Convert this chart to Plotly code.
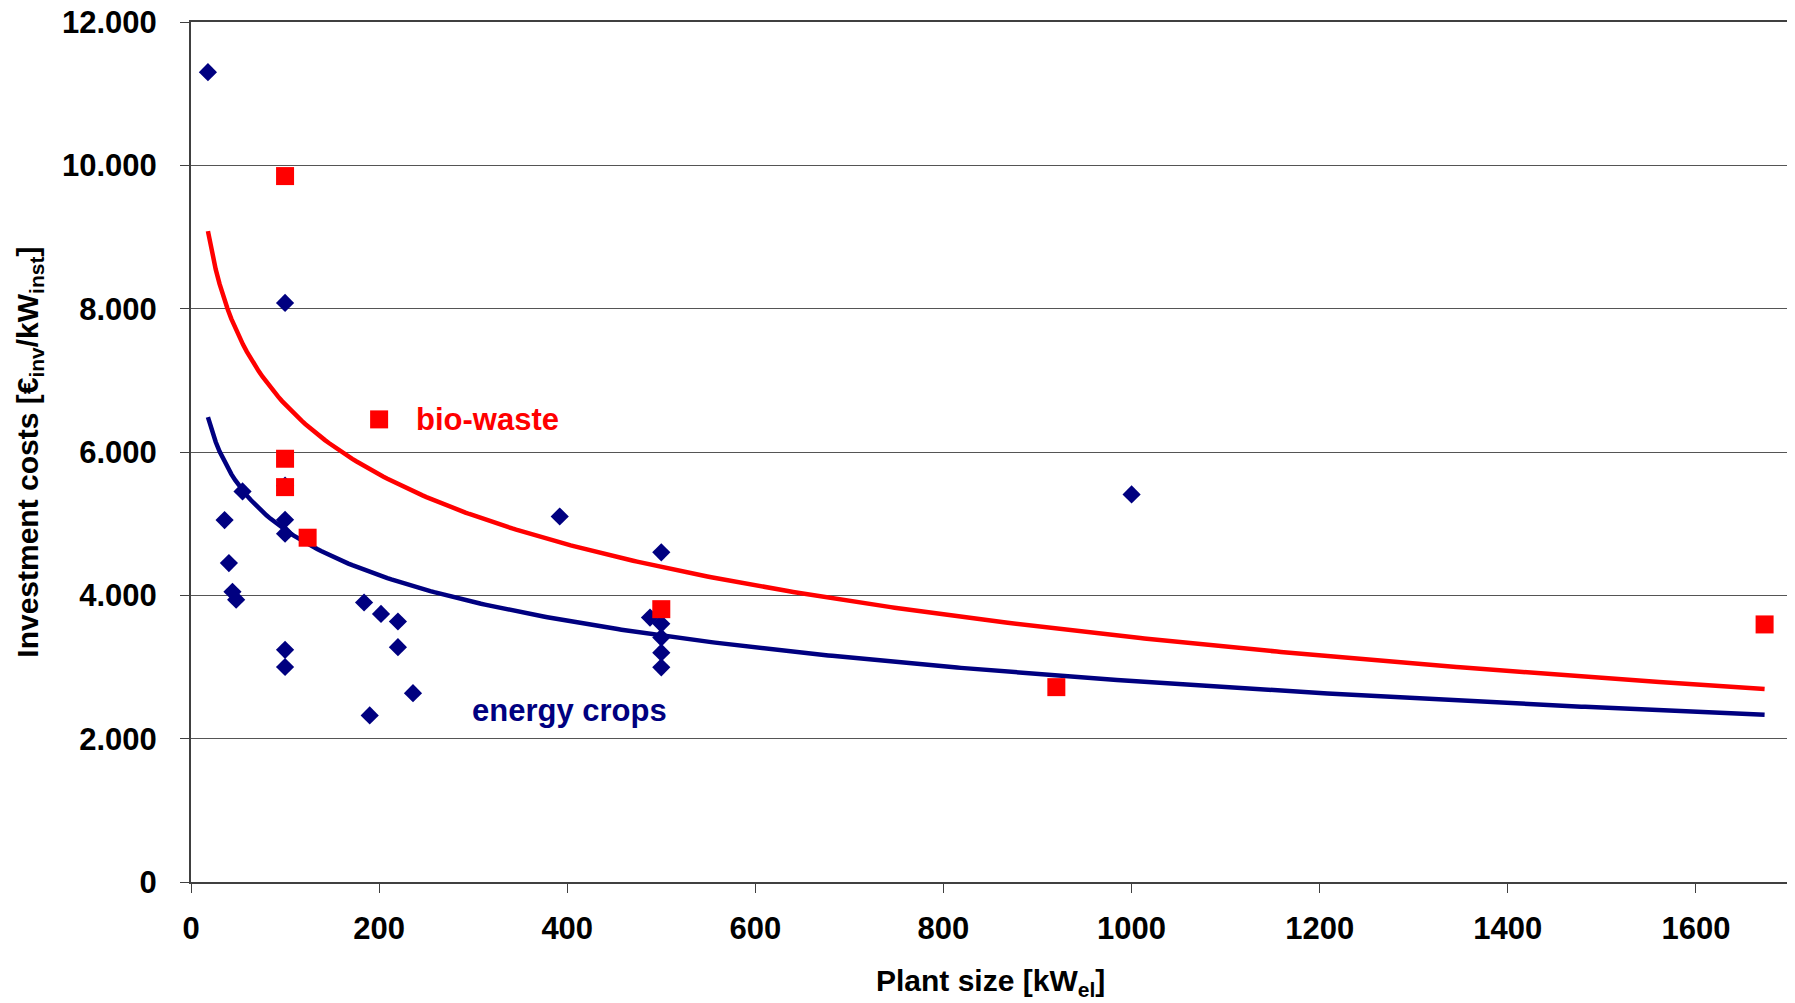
import numpy as np
import plotly.graph_objects as go

# ---- data ----
energy_x = [18, 100, 35.7, 54.8, 40.3, 44.1, 48, 100, 100, 100, 100, 100,
            184, 202, 220, 220, 236, 190, 392, 500, 488, 500, 500, 500, 500, 1000]
energy_y = [11300, 8080, 5050, 5450, 4450, 4050, 3940, 5530, 5055, 4860, 3240, 3000,
            3900, 3740, 3635, 3277, 2635, 2324, 5100, 4600, 3690, 3603, 3410, 3200, 2995, 5408]

bio_x = [100, 100, 100, 124, 200, 500, 920, 1673]
bio_y = [9850, 5906, 5510, 4804, 6455, 3807, 2719, 3594]

# logarithmic trendlines y = a + b*ln(x), coefficients
energy_trend = dict(a=9136, b=-916.6)
bio_trend = dict(a=13158, b=-1410)
trend_x_start = 18
trend_x_end = 1673

x_ticks = [0, 200, 400, 600, 800, 1000, 1200, 1400, 1600]
y_ticks = [0, 2000, 4000, 6000, 8000, 10000, 12000]

NAVY = "#000080"
RED = "#FF0000"
FONT = "Liberation Sans, Arial, sans-serif"

tx = np.linspace(trend_x_start, trend_x_end, 400)

fig = go.Figure()
fig.add_trace(go.Scatter(x=tx, y=bio_trend["a"] + bio_trend["b"] * np.log(tx), mode="lines",
                         line=dict(color=RED, width=4.5), hoverinfo="skip", showlegend=False))
fig.add_trace(go.Scatter(x=tx, y=energy_trend["a"] + energy_trend["b"] * np.log(tx), mode="lines",
                         line=dict(color=NAVY, width=4.5), hoverinfo="skip", showlegend=False))
fig.add_trace(go.Scatter(x=energy_x, y=energy_y, mode="markers", name="energy crops",
                         marker=dict(symbol="diamond", size=14, color=NAVY, line=dict(width=0)),
                         showlegend=False))
fig.add_trace(go.Scatter(x=bio_x, y=bio_y, mode="markers", name="bio-waste",
                         marker=dict(symbol="square", size=18, color=RED, line=dict(width=0)),
                         showlegend=False))

fig.add_annotation(x=237, y=6455, xref="x", yref="y", text="<b>bio-waste</b>",
                   showarrow=False, xanchor="left", yanchor="middle",
                   font=dict(family=FONT, size=31, color=RED))
fig.add_annotation(x=297, y=2393, xref="x", yref="y", text="<b>energy crops</b>",
                   showarrow=False, xanchor="left", yanchor="middle",
                   font=dict(family=FONT, size=31, color=NAVY))

# axis titles
fig.add_annotation(x=0.5, y=-0.1169, xref="paper", yref="paper",
                   text="<b>Plant size [kW<sub>el</sub>]</b>", showarrow=False,
                   xanchor="center", yanchor="middle",
                   font=dict(family=FONT, size=30, color="black"))
fig.add_annotation(x=-0.1015, y=0.5, xref="paper", yref="paper",
                   text="<b>Investment costs [€<sub>inv</sub>/kW<sub>inst</sub>]</b>",
                   showarrow=False, textangle=-90,
                   xanchor="center", yanchor="middle",
                   font=dict(family=FONT, size=30, color="black"))

fig.update_layout(
    width=1787, height=995,
    margin=dict(l=183, r=5, t=14, b=121),
    plot_bgcolor="white", paper_bgcolor="white",
    separators=",.",
    font=dict(family=FONT, size=28, color="black"),
    xaxis=dict(range=[0, 1700], tickvals=x_ticks, tickformat="d", automargin=False,
               showgrid=False, zeroline=False,
               showline=True, linecolor="#404040", linewidth=2, mirror=True,
               ticks="outside", ticklen=9, tickcolor="#404040", tickwidth=1,
               ticklabelstandoff=9, ticklabeloverflow="allow",
               tickfont=dict(family=FONT, size=31, color="black", weight="bold")),
    yaxis=dict(range=[0, 12000], tickvals=y_ticks, tickformat=",d", automargin=False,
               showgrid=True, gridcolor="#555555", gridwidth=1, zeroline=False,
               showline=True, linecolor="#404040", linewidth=2, mirror=True,
               ticks="outside", ticklen=9, tickcolor="#404040", tickwidth=1,
               ticklabelstandoff=17, ticklabeloverflow="allow",
               tickfont=dict(family=FONT, size=31, color="black", weight="bold")),
)

fig.write_html("out.html")
